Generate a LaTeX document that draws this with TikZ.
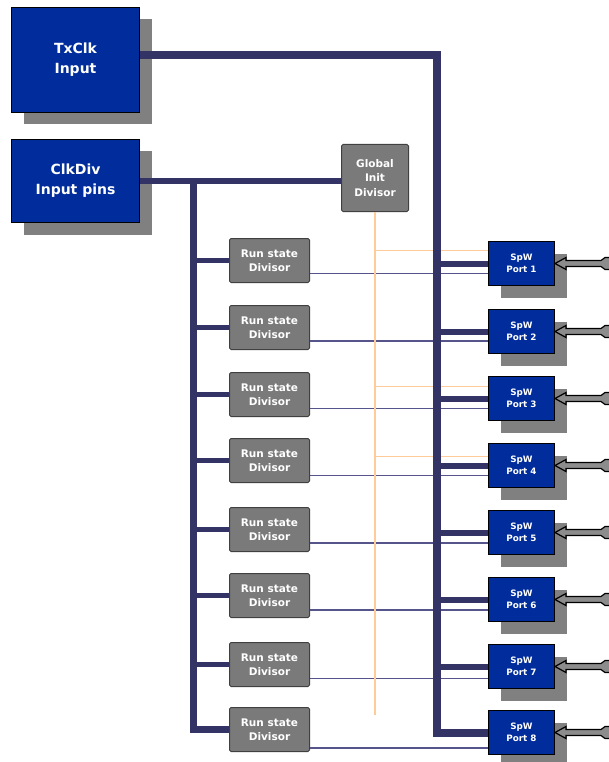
\documentclass[tikz,border=0pt]{standalone}
\usepackage{fontspec}
\setmainfont{DejaVu Sans}
\usetikzlibrary{shadows}
\definecolor{busc}{RGB}{51,51,102}
\definecolor{thinc}{RGB}{85,85,140}
\definecolor{portblue}{RGB}{0,45,155}
\definecolor{boxgray}{RGB}{122,122,122}
\definecolor{shadowgray}{RGB}{128,128,128}
\definecolor{arrowgray}{RGB}{140,140,140}
\definecolor{initc}{RGB}{255,204,153}
\begin{document}
\begin{tikzpicture}[x=1pt,y=-1pt,
  shadowed/.style={general shadow={fill=shadowgray, shadow xshift=12pt, shadow yshift=-12pt}},
  bigbox/.style={shadowed, draw=black, line width=1pt, fill=portblue, text=white,
    minimum width=128pt, align=center, inner sep=0pt, anchor=north west,
    font=\bfseries\fontsize{14}{20}\selectfont},
  portbox/.style={shadowed, draw=black, line width=1pt, fill=portblue, text=white,
    minimum width=66pt, minimum height=44pt, align=center, inner sep=0pt, anchor=north west,
    font=\bfseries\fontsize{8.8}{12}\selectfont},
  graybox/.style={draw=black!75, line width=1pt, fill=boxgray, text=white, rounded corners=1.5pt,
    align=center, inner sep=0pt, anchor=north west,
    font=\bfseries\fontsize{10.5}{14.5}\selectfont},
  runbox/.style={graybox, minimum width=80pt, minimum height=44pt},
  busline/.style={busc, line width=8pt},
  branchline/.style={busc, line width=6pt},
  rsline/.style={busc, line width=5pt},
  thinline/.style={thinc, line width=1.2pt},
  initline/.style={initc, line width=1pt},
  portarrow/.style={draw=black, fill=arrowgray, line width=1.2pt, line join=miter}
]
\useasboundingbox (0,0) rectangle (609,762);

% nodes
\node[bigbox, minimum height=105pt] (txclk) at (11,7) {TxClk\\Input};
\node[bigbox, minimum height=83pt] (clkdiv) at (11,139) {ClkDiv\\Input pins};
\node[graybox, minimum width=67pt, minimum height=67pt] (gid) at (341,144) {Global\\Init\\Divisor};

\foreach \i/\rt/\pt in {1/238/241, 2/305/309, 3/372/376, 4/438/443, 5/507/510, 6/573/577, 7/642/644, 8/707/710} {
  \node[runbox] (rs\i) at (229,\rt) {Run state\\Divisor};
  \node[portbox] (p\i) at (488,\pt) {SpW\\Port \i};
}

\coordinate (busx) at (437,0);
\coordinate (cbx) at (193,0);
\coordinate (oend) at (374,715);

% thin lines from run state divisors to ports
\foreach \i/\d in {1/13, 2/13.5, 3/14, 4/15, 5/13.5, 6/14.5, 7/14, 8/18.5} {
  \draw[thinline] ([yshift=-\d pt]rs\i.east) -- ([yshift=-\d pt]rs\i.east -| p\i.west);
}

% global init lines
\draw[initc, line width=2pt] (gid.south) -- (gid.south |- oend);
\foreach \i/\d in {1/13, 3/12.5, 4/9.5} {
  \draw[initline] ([yshift=\d pt]p\i.west) -- ([yshift=\d pt]p\i.west -| gid.south);
}

% TxClk bus
\draw[busline] ([yshift=4.5pt]txclk.east) -| (busx |- p8.west) -- (p8.west);
\foreach \i in {1,...,7} {
  \draw[branchline] (busx |- p\i.west) -- (p\i.west);
}

% ClkDiv bus
\draw[busc, line width=5.5pt] (clkdiv.east) -- (clkdiv.east -| gid.west);
\draw[busc, line width=7pt] (cbx |- clkdiv.east) -- (cbx |- rs8.west) -- (rs8.west);
\foreach \i in {1,...,7} {
  \draw[rsline] (cbx |- rs\i.west) -- (rs\i.west);
}

% port input arrows
\foreach \i in {1,...,8} {
  \draw[portarrow] (p\i.east) -- ++(11,-6) -- ++(0,3) -- ++(35,0) -- ++(4,-3) -- ++(12,0)
    -- ++(0,12) -- ++(-12,0) -- ++(-4,-3) -- ++(-35,0) -- ++(0,3) -- cycle;
}
\end{tikzpicture}
\end{document}
